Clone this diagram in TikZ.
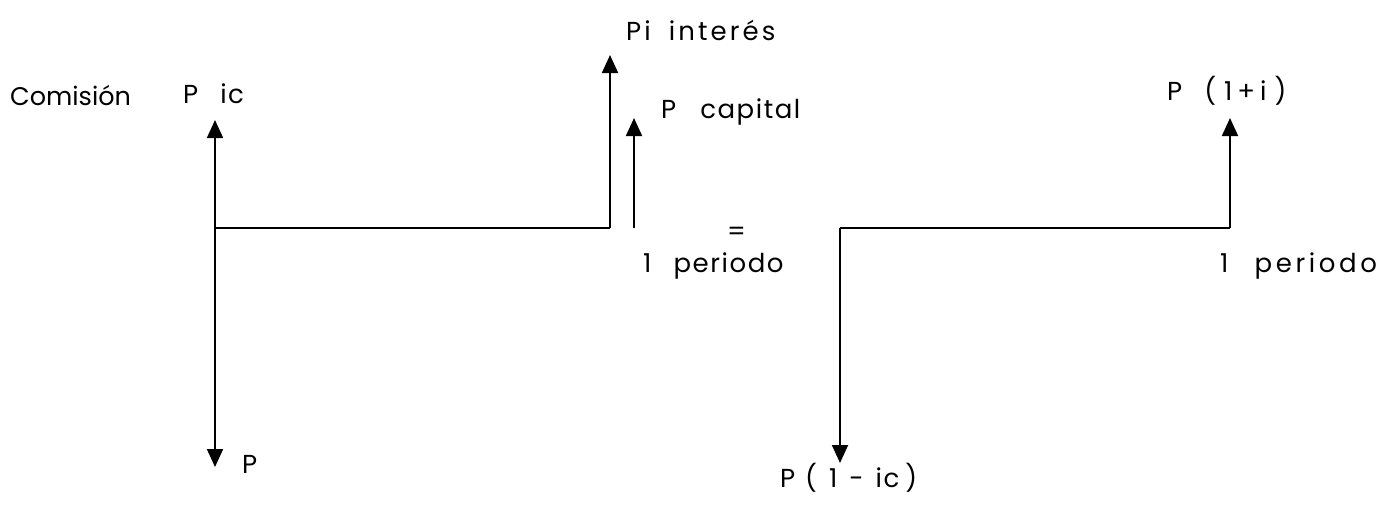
\documentclass[tikz,border=0pt]{standalone}
\usepackage{fontspec}
\setmainfont{Poppins}[LetterSpace=6]
\usetikzlibrary{arrows.meta}
\begin{document}
\begin{tikzpicture}[x=1pt,y=-1pt,
  flow/.style={line width=1.8pt,-{Triangle[width=16pt,length=18pt]}},
  axis/.style={line width=1.8pt},
  lbl/.style={font=\fontsize{26}{30}\selectfont,inner sep=0pt,anchor=base west}]
\useasboundingbox (0,0) rectangle (1378,504);
% left diagram
\coordinate (L0) at (215,228);
\coordinate (Ltop) at (215,120);
\coordinate (Lbot) at (215,467);
\coordinate (L1) at (610,228);
\coordinate (Li) at (610,55);
\coordinate (Cb) at (634,228);
\coordinate (Ct) at (634,118);
\draw[flow] (L0) -- (Ltop);
\draw[flow] (L0) -- (Lbot);
\draw[axis] (L0) -- (L1);
\draw[flow] (L1) -- (Li);
\draw[flow] (Cb) -- (Ct);
\node[lbl,font=\fontsize{25.5}{28}\selectfont\addfontfeature{LetterSpace=0}] (com) at (10,105) {Comisión};
\node[lbl] (pic) at (183,103) {P\hspace{22pt}ic};
\node[lbl] (pb) at (242,473) {P};
\node[lbl,font=\fontsize{26}{30}\selectfont\addfontfeature{LetterSpace=12}] (pi) at (626,40) {Pi\hspace{18pt}interés};
\node[lbl] (cap) at (661,118) {P\hspace{24pt}capital};
\node[lbl] (eq) at (727,240) {=};
\node[lbl] (per1) at (643,272) {1\hspace{22pt}periodo};
% right diagram
\coordinate (R0) at (840,228);
\coordinate (Rbot) at (840,463);
\coordinate (R1) at (1230,228);
\coordinate (Rtop) at (1230,118);
\draw[flow] (R0) -- (Rbot);
\draw[axis] (R0) -- (R1);
\draw[flow] (R1) -- (Rtop);
\node[lbl] (p1i) at (1167,100) {P\hspace{22pt}(\hspace{8pt}1\hspace{5pt}+\hspace{5pt}i\hspace{8pt})};
\node[lbl,font=\fontsize{26}{30}\selectfont\addfontfeature{LetterSpace=14}] (per2) at (1220,272) {1\hspace{26pt}periodo};
\node[lbl] (p1ic) at (780,487) {P\hspace{10pt}(\hspace{12pt}1\hspace{12pt}-\hspace{12pt}ic\hspace{6pt})};
\end{tikzpicture}
\end{document}
